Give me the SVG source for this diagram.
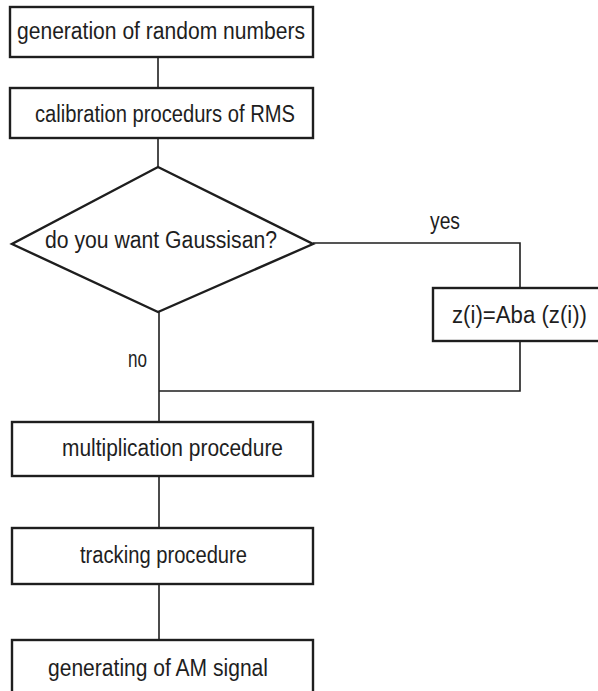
<svg xmlns="http://www.w3.org/2000/svg" width="598" height="691" viewBox="0 0 598 691">
<style>
.box{fill:#fff;stroke:#1e1e1e;stroke-width:2.4}
.c{fill:none;stroke:#1e1e1e;stroke-width:1.6}
text{font-family:"Liberation Sans",Arial,sans-serif;font-size:23px;fill:#1e1e1e}
</style>
<rect width="598" height="691" fill="#fff"/>
<g id="connectors">
<path class="c" d="M158,57 V88"/>
<path class="c" d="M158,138 V167"/>
<path class="c" d="M159,312 V422"/>
<path class="c" d="M159,476 V528"/>
<path class="c" d="M159,584 V640"/>
<path class="c" d="M313,243 H520 V288"/>
<path class="c" d="M520,341 V391 H159"/>
<text x="430" y="229" textLength="30" lengthAdjust="spacingAndGlyphs">yes</text>
<text x="128" y="367" textLength="19" lengthAdjust="spacingAndGlyphs">no</text>
</g>
<g id="n1">
<rect class="box" x="10" y="7" width="303" height="50"/>
<text x="17" y="39" textLength="288" lengthAdjust="spacingAndGlyphs">generation of random numbers</text>
</g>
<g id="n2">
<rect class="box" x="10" y="88" width="303" height="50"/>
<text x="35" y="122" textLength="260" lengthAdjust="spacingAndGlyphs">calibration procedurs of RMS</text>
</g>
<g id="n3">
<polygon class="box" points="158,167 313,244 158,312 12,244"/>
<text x="45" y="248" textLength="232" lengthAdjust="spacingAndGlyphs">do you want Gaussisan?</text>
</g>
<g id="n4">
<rect class="box" x="433" y="288" width="180" height="53"/>
<text x="452" y="323" textLength="135" lengthAdjust="spacingAndGlyphs">z(i)=Aba (z(i))</text>
</g>
<g id="n5">
<rect class="box" x="12" y="422" width="301" height="54"/>
<text x="62" y="456" textLength="221" lengthAdjust="spacingAndGlyphs">multiplication procedure</text>
</g>
<g id="n6">
<rect class="box" x="12" y="528" width="301" height="56"/>
<text x="80" y="563" textLength="167" lengthAdjust="spacingAndGlyphs">tracking procedure</text>
</g>
<g id="n7">
<rect class="box" x="12" y="640" width="301" height="60"/>
<text x="48" y="676" textLength="220" lengthAdjust="spacingAndGlyphs">generating of AM signal</text>
</g>
</svg>
